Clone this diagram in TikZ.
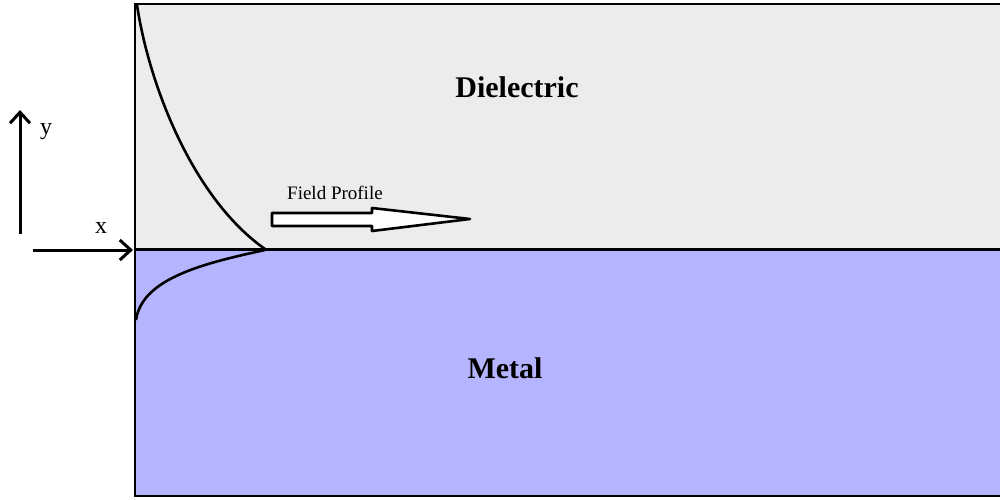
\documentclass[tikz,border=0pt]{standalone}
\usepackage{fontspec}
\setmainfont{Liberation Serif}
\usetikzlibrary{arrows.meta}
\definecolor{dielec}{RGB}{236,236,236}
\definecolor{metal}{RGB}{181,181,255}
\tikzset{
  region/.style={draw=black, line width=2pt},
  axisarrow/.style={line width=3pt, -{Straight Barb[length=11pt,width=20pt,line width=3pt]}},
  profile/.style={line width=2.6pt, black},
  bigtitle/.style={font=\fontsize{30}{34}\selectfont\bfseries, anchor=base, inner sep=0pt},
  axislabel/.style={font=\fontsize{24}{28}\selectfont, anchor=base, inner sep=0pt},
  smalllabel/.style={font=\fontsize{19}{22}\selectfont, anchor=base west, inner sep=0pt}
}
\begin{document}
\begin{tikzpicture}[x=1pt,y=-1pt]
\useasboundingbox (0,0) rectangle (1000,499);
\fill[white] (0,0) rectangle (1000,499);
% regions
\fill[dielec] (135,4) rectangle (1002,249);
\fill[metal] (135,249) rectangle (1002,496);
\draw[region] (1002,4) -- (135,4) -- (135,496) -- (1002,496);
\draw[line width=3pt] (135,249) -- (1002,249);
% field profile curves
\draw[profile] (137,5) .. controls (150,90) and (195,200) .. (265,249);
\draw[profile] (265,250) .. controls (205,263) and (142,278) .. (136,320);
% hollow arrow
\draw[line width=2.6pt, fill=white, line join=round]
  (272,213) -- (372,213) -- (372,208) -- (470,219) -- (372,231) -- (372,226) -- (272,226) -- cycle;
% labels
\node[bigtitle] (diel) at (517,97) {Dielectric};
\node[bigtitle] (metl) at (505,378) {Metal};
\node[smalllabel] (fp) at (287,199) {Field Profile};
\node[axislabel] (xl) at (101,233) {x};
\node[axislabel] (yl) at (46,134) {y};
% axes
\coordinate (ybot) at (20,234);
\coordinate (ytop) at (20,110);
\coordinate (xleft) at (33,250);
\coordinate (xright) at (133,250);
\draw[axisarrow] (ybot) -- (ytop);
\draw[axisarrow] (xleft) -- (xright);
\end{tikzpicture}
\end{document}
